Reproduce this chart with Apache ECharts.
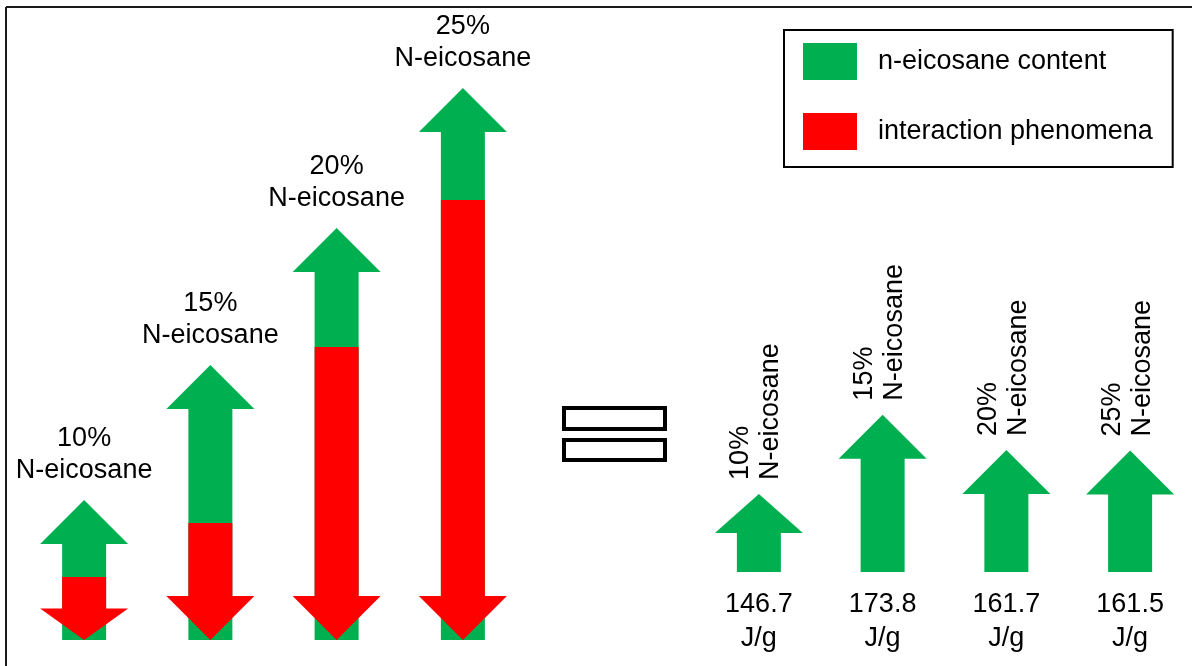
<!DOCTYPE html>
<html>
<head>
<meta charset="utf-8">
<script src="https://cdn.jsdelivr.net/npm/echarts@6/dist/echarts.min.js"></script>
<style>
  html, body { margin: 0; padding: 0; background: #fff; }
  #chart { width: 1192px; height: 666px; }
</style>
</head>
<body>
<div id="chart"></div>
<script>
// PCM loadings
const contents = ['10%', '15%', '20%', '25%'];
// relative gain from n-eicosane content (up arrows)
const eicosaneGain = [14.0, 27.5, 41.2, 55.2];
// relative loss from interaction phenomena (down arrows)
const interactionLoss = [6.3, 11.7, 29.3, 44.0];
// resulting latent heat, J/g
const latentHeat = [146.7, 173.8, 161.7, 161.5];

const GREEN = '#00B050';
const RED = '#FF0000';
const FONT = '"Liberation Sans", Arial, sans-serif';
const FS = 27;

// block arrow polygon from base to tip; head shortens on short arrows
function arrowPoints(cx, yBase, yTip) {
  const sw = 44, hw = 88;
  const len = Math.abs(yTip - yBase);
  const dir = yTip < yBase ? -1 : 1;
  const h = Math.min(44, len / 2);
  const hb = yTip - dir * h;
  return [
    [cx - sw / 2, yBase], [cx - sw / 2, hb], [cx - hw / 2, hb], [cx, yTip],
    [cx + hw / 2, hb], [cx + sw / 2, hb], [cx + sw / 2, yBase]
  ];
}

const chart = echarts.init(document.getElementById('chart'), null, { renderer: 'canvas' });

const hiddenCat = (gridIndex) => ({
  type: 'category', gridIndex, data: contents, boundaryGap: true,
  axisLine: { show: false }, axisTick: { show: false }, axisLabel: { show: false }, splitLine: { show: false }
});
const hiddenVal = (gridIndex, min, max) => ({
  type: 'value', gridIndex, min, max,
  axisLine: { show: false }, axisTick: { show: false }, axisLabel: { show: false }, splitLine: { show: false }
});

chart.setOption({
  backgroundColor: '#fff',
  animation: false,
  grid: [
    { left: 21, width: 505, top: 40, bottom: 26 },
    { left: 697, width: 508, top: 338, bottom: 94 }
  ],
  xAxis: [hiddenCat(0), hiddenCat(1)],
  yAxis: [hiddenVal(0, 0, 60), hiddenVal(1, 120, 200)],
  legend: {
    orient: 'vertical',
    left: 784, top: 30,
    padding: [13, 20, 17, 19],
    borderColor: '#000', borderWidth: 2,
    itemWidth: 54, itemHeight: 37, itemGap: 33,
    icon: 'rect',
    textStyle: { fontFamily: FONT, fontSize: FS, color: '#000', padding: [0, 0, 0, 16] },
    data: ['n-eicosane content', 'interaction phenomena']
  },
  graphic: [
    // frame edges
    { type: 'line', shape: { x1: 6, y1: 7, x2: 1192, y2: 7 }, style: { stroke: '#1a1a1a', lineWidth: 2 } },
    { type: 'line', shape: { x1: 6, y1: 7, x2: 6, y2: 666 }, style: { stroke: '#1a1a1a', lineWidth: 2 } },
    // outlined equals sign
    { type: 'rect', shape: { x: 564, y: 408, width: 101, height: 21 }, style: { fill: null, stroke: '#000', lineWidth: 4 } },
    { type: 'rect', shape: { x: 564, y: 440, width: 101, height: 20 }, style: { fill: null, stroke: '#000', lineWidth: 4 } }
  ],
  series: [
    {
      name: 'n-eicosane content',
      type: 'custom',
      xAxisIndex: 0, yAxisIndex: 0,
      itemStyle: { color: GREEN },
      data: eicosaneGain.map((v, i) => [i, v]),
      renderItem: (params, api) => {
        const base = api.coord([api.value(0), 0]);
        const tip = api.coord([api.value(0), api.value(1)]);
        return {
          type: 'group',
          children: [
            { type: 'polygon', shape: { points: arrowPoints(base[0], base[1], tip[1]) }, style: { fill: GREEN } },
            {
              type: 'text', x: tip[0], y: tip[1] - 13,
              style: {
                text: contents[params.dataIndex] + '\nN-eicosane',
                fontFamily: FONT, fontSize: FS, lineHeight: 32, fill: '#000',
                align: 'center', verticalAlign: 'bottom'
              }
            }
          ]
        };
      }
    },
    {
      name: 'interaction phenomena',
      type: 'custom',
      xAxisIndex: 0, yAxisIndex: 0,
      itemStyle: { color: RED },
      z: 3,
      data: interactionLoss.map((v, i) => [i, v]),
      renderItem: (params, api) => {
        const top = api.coord([api.value(0), api.value(1)]);
        const tip = api.coord([api.value(0), 0]);
        return { type: 'polygon', shape: { points: arrowPoints(top[0], top[1], tip[1]) }, style: { fill: RED } };
      }
    },
    {
      name: 'latent heat',
      type: 'custom',
      xAxisIndex: 1, yAxisIndex: 1,
      itemStyle: { color: GREEN },
      data: latentHeat.map((v, i) => [i, v]),
      renderItem: (params, api) => {
        const base = api.coord([api.value(0), 120]);
        const tip = api.coord([api.value(0), api.value(1)]);
        return {
          type: 'group',
          children: [
            { type: 'polygon', shape: { points: arrowPoints(base[0], base[1], tip[1]) }, style: { fill: GREEN } },
            {
              type: 'text', x: tip[0] - 3, y: tip[1] - 14, rotation: Math.PI / 2,
              style: {
                text: contents[params.dataIndex] + '\nN-eicosane',
                fontFamily: FONT, fontSize: FS, lineHeight: 30, fill: '#000',
                align: 'left', verticalAlign: 'middle'
              }
            },
            {
              type: 'text', x: base[0], y: base[1] + 50,
              style: {
                text: api.value(1).toFixed(1) + '\nJ/g',
                fontFamily: FONT, fontSize: FS, lineHeight: 34, fill: '#000',
                align: 'center', verticalAlign: 'middle'
              }
            }
          ]
        };
      }
    }
  ]
});
</script>
</body>
</html>
